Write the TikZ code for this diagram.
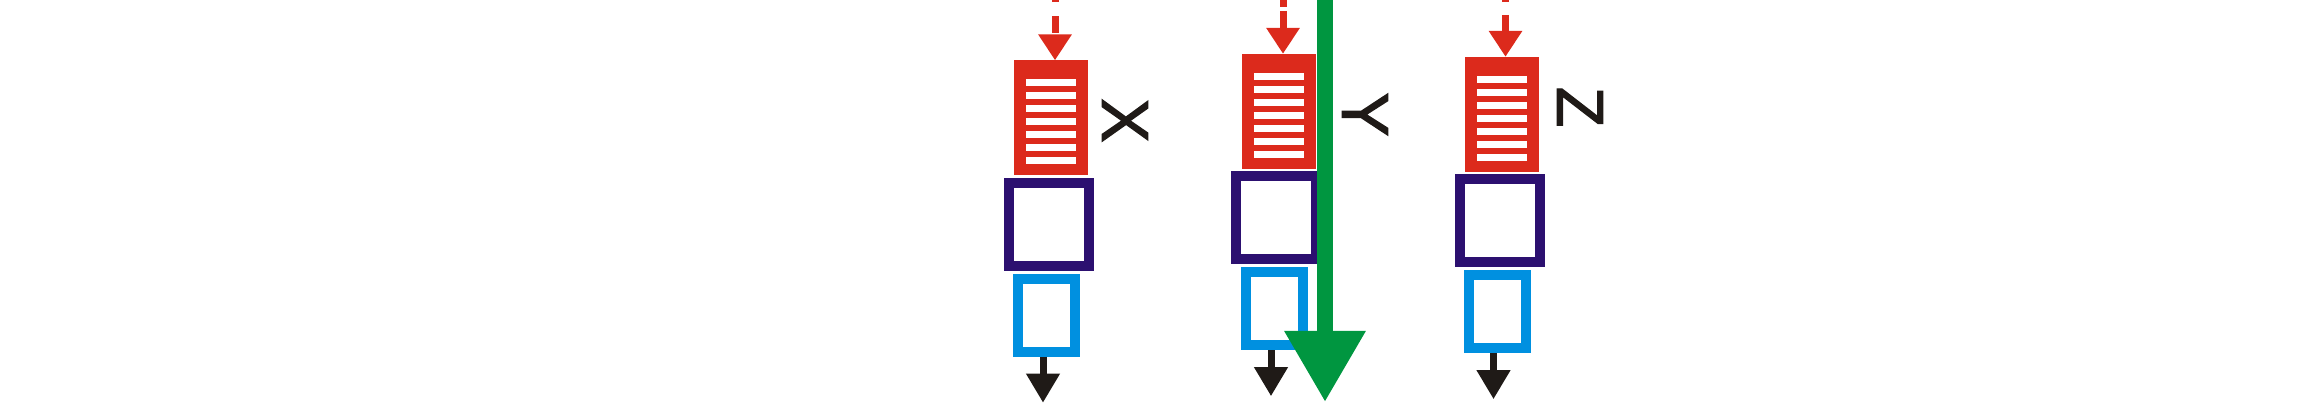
\documentclass[tikz,border=0pt]{standalone}
\usepackage{fontspec}
\newfontfamily\ejefont[FakeBold=2]{Liberation Sans}
\usetikzlibrary{
    positioning,
    arrows.meta
}
\definecolor{filtrojo}{RGB}{220,42,28}
\definecolor{marino}{RGB}{44,16,112}
\definecolor{celeste}{RGB}{0,144,224}
\definecolor{verde}{RGB}{0,150,64}
\definecolor{negro}{RGB}{31,26,23}
\tikzset{
    filtro/.style={
        rectangle,
        fill=filtrojo,
        inner sep=0pt,
        minimum width=74pt,
        minimum height=115pt,
        path picture={
            \foreach \k in {0,...,6}
                \fill[white]
                    ([xshift=12pt, yshift={-19pt-13pt*\k}]path picture bounding box.north west)
                    rectangle ++(50pt,-7pt);
        }
    },
    caja/.style={
        rectangle,
        draw=marino,
        line width=10pt,
        inner sep=0pt,
        minimum width=80pt,
        minimum height=83pt
    },
    cajita/.style={
        rectangle,
        draw=celeste,
        line width=10pt,
        inner sep=0pt,
        minimum width=57pt,
        minimum height=73pt
    },
    entrada/.style={
        draw=filtrojo,
        line width=7pt,
        -{Triangle[width=32pt, length=26pt]}
    },
    salida/.style={
        draw=negro,
        line width=7pt,
        -{Triangle[width=32pt, length=29pt]}
    },
    flujo/.style={
        draw=verde,
        line width=16pt,
        -{Triangle[width=77pt, length=71pt]}
    },
    eje/.style={
        inner sep=0pt,
        rotate=-90,
        text=negro,
        font=\ejefont\fontsize{66}{66}\selectfont
    }
}

\begin{document}
\begin{tikzpicture}[
    x=1pt,
    y=-1pt
]

    \useasboundingbox (0,0) rectangle (2311,403);

    % Filtros
    \node[filtro] (f1) at (1051,118)     {};
    \node[filtro] (f2) at (1279,111.5)   {};
    \node[filtro] (f3) at (1501.5,114.5) {};

    % Cajas
    \node[caja, below=2pt of f1, xshift=-2pt]   (c1) {};
    \node[caja, below=2pt of f2, xshift=-3.5pt] (c2) {};
    \node[caja, below=2pt of f3, xshift=-1.5pt] (c3) {};

    \node[cajita, below=3pt of c1, xshift=-2.5pt] (d1) {};
    \node[cajita, below=3pt of c2, xshift=-1pt]   (d2) {};
    \node[cajita, below=3pt of c3, xshift=-3pt]   (d3) {};

    % Ejes
    \node[eje] (ex) at (1125,120.5) {X};
    \node[eje] (ey) at (1365,114.5) {Y};
    \node[eje] (ez) at (1580,107)   {Z};

    % Entradas
    \coordinate[above=75pt of f1, xshift=4pt] (e1);
    \coordinate[above=64pt of f2, xshift=4pt] (e2);
    \coordinate[above=72pt of f3, xshift=4pt] (e3);

    \draw[entrada, dash pattern=on 17pt off 14pt] (e1) -- (e1 |- f1.north);
    \draw[entrada, dash pattern=on 17pt off 4pt]  (e2) -- (e2 |- f2.north);
    \draw[entrada, dash pattern=on 17pt off 13pt] (e3) -- (e3 |- f3.north);

    % Salidas
    \coordinate[below=46pt of d1, xshift=-3.5pt] (s1);
    \coordinate[below=46pt of d2, xshift=-3.5pt] (s2);
    \coordinate[below=46pt of d3, xshift=-3.5pt] (s3);

    \draw[salida] (s1 |- d1.south) -- (s1);
    \draw[salida] (s2 |- d2.south) -- (s2);
    \draw[salida] (s3 |- d3.south) -- (s3);

    % Flujo principal
    \coordinate (g0) at (1325,-5);
    \coordinate (g1) at (1325,402);

    \draw[flujo] (g0) -- (g1);

\end{tikzpicture}
\end{document}
